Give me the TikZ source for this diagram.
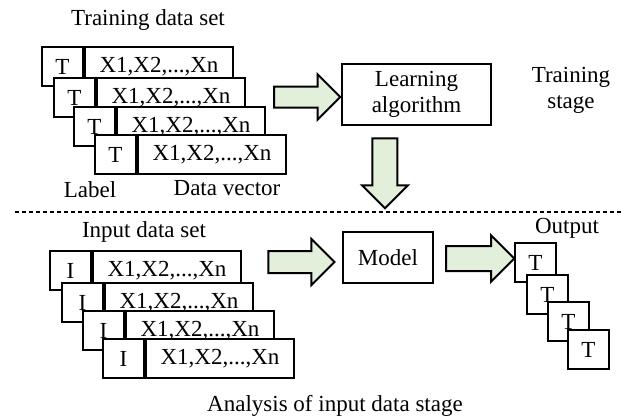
\documentclass[tikz,border=0pt]{standalone}
\usepackage{fontspec}
\setmainfont{Liberation Serif}
\usepackage{xcolor}
\definecolor{arrowfill}{RGB}{226,239,218}
\usetikzlibrary{positioning}
\usetikzlibrary{shapes.arrows}
\tikzset{
  cell/.style={draw, fill=white, line width=1pt, inner sep=0pt, minimum height=19.5pt},
  labcell/.style={cell, minimum width=20.5pt},
  veccell/.style={cell, minimum width=74pt},
  stagebox/.style={draw, fill=white, line width=1pt, inner sep=0pt, align=center},
  fatarrow/.style={single arrow, draw, fill=arrowfill, line width=1pt, inner sep=0pt, single arrow tip angle=90},
}

\begin{document}
\begin{tikzpicture}[x=0.5pt, y=-0.5pt, every node/.style={font=\fontsize{11.5pt}{13pt}\selectfont}]
\useasboundingbox (0,0) rectangle (629,419);

% Training data set
  \node (trainset) at (148,20) {Training data set};
  \node[labcell, anchor=north west] (t1) at (41,46) {T};
  \node[veccell, anchor=west] (v1) at (t1.east) {X1,X2,...,Xn};
  \node[labcell, anchor=north west] (t2) at (53,77) {T};
  \node[veccell, anchor=west] (v2) at (t2.east) {X1,X2,...,Xn};
  \node[labcell, anchor=north west] (t3) at (73,106) {T};
  \node[veccell, anchor=west] (v3) at (t3.east) {X1,X2,...,Xn};
  \node[labcell, anchor=north west] (t4) at (94,134) {T};
  \node[veccell, anchor=west] (v4) at (t4.east) {X1,X2,...,Xn};
  \node (label) at (90,190) {Label};
  \node (datavec) at (227,188) {Data vector};

% Learning
  \node[fatarrow, minimum height=33pt, inner ysep=4.75pt, single arrow head extend=6pt] (a1) at (302,97) {};
  \node[stagebox, minimum width=74.5pt, minimum height=30.5pt] (learn) at (416.5,94.5) {Learning\\algorithm};
  \node[align=center] (trainstage) at (571,90) {Training\\stage};
  \node[fatarrow, rotate=-90, minimum height=35pt, inner ysep=5.75pt, single arrow head extend=5.25pt] (a2) at (385,167) {};

% stage separator
  \draw[line width=1pt, dash pattern=on 2pt off 1.5pt] (15,212) -- (624,212);

% Input data set
  \node (inputset) at (144,232) {Input data set};
  \node[labcell, anchor=north west] (i1) at (49,250) {I};
  \node[veccell, anchor=west] (w1) at (i1.east) {X1,X2,...,Xn};
  \node[labcell, anchor=north west] (i2) at (61,282) {I};
  \node[veccell, anchor=west] (w2) at (i2.east) {X1,X2,...,Xn};
  \node[labcell, anchor=north west] (i3) at (82,310) {I};
  \node[veccell, anchor=west] (w3) at (i3.east) {X1,X2,...,Xn};
  \node[labcell, anchor=north west] (i4) at (102,338) {I};
  \node[veccell, anchor=west] (w4) at (i4.east) {X1,X2,...,Xn};

% Model and output
  \node[fatarrow, minimum height=33pt, inner ysep=5pt, single arrow head extend=6pt] (a3) at (296,262) {};
  \node[stagebox, minimum width=45pt, minimum height=25.5pt] (model) at (388,257.5) {Model};
  \node[fatarrow, minimum height=34pt, inner ysep=5.75pt, single arrow head extend=5.25pt] (a4) at (474,258.5) {};
  \node (output) at (567,228) {Output};
  \node[labcell, anchor=north west] (o1) at (514,242) {T};
  \node[labcell, anchor=north west] (o2) at (526,274) {T};
  \node[labcell, anchor=north west] (o3) at (547,301) {T};
  \node[labcell, anchor=north west] (o4) at (567,329) {T};

  \node (analysis) at (335,406) {Analysis of input data stage};

\end{tikzpicture}
\end{document}
